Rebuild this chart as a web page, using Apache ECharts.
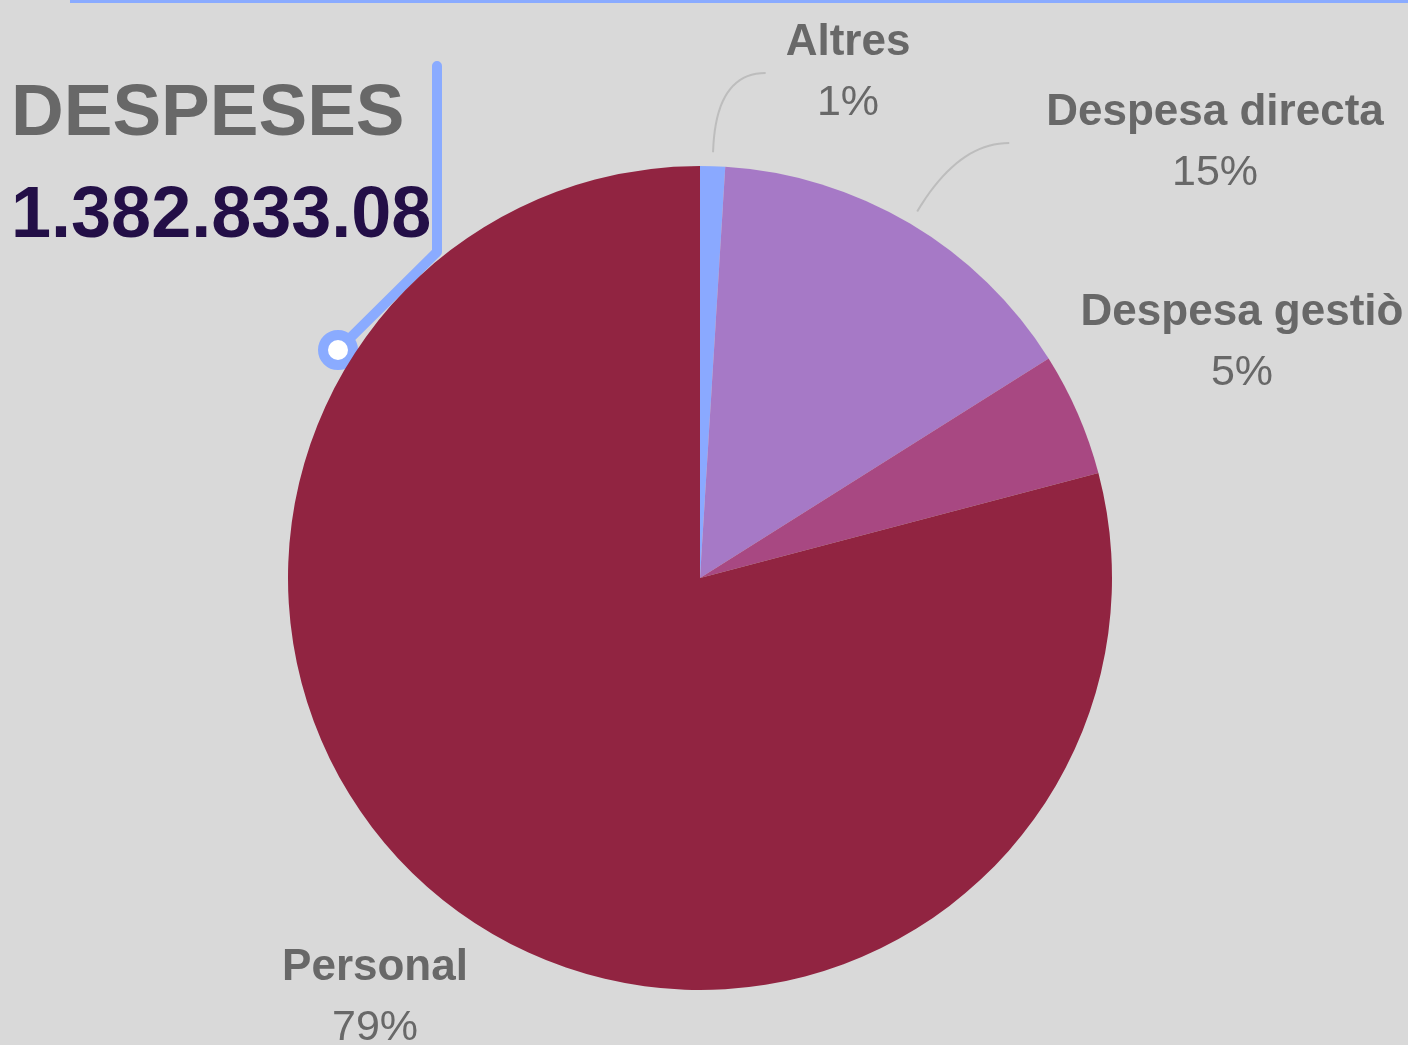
<!DOCTYPE html>
<html>
<head>
<meta charset="utf-8">
<script src="https://cdn.jsdelivr.net/npm/echarts@6/dist/echarts.min.js"></script>
<style>
    html, body { margin: 0; padding: 0; background: #d9d9d9; }
    #chart { width: 1408px; height: 1045px; }
</style>
</head>
<body>
<div id="chart"></div>
<script>
// dades
var categories = ['Altres', 'Despesa directa', 'Despesa gestiò', 'Personal'];
var amounts = [13500, 208500, 67000, 1093833.08];
var sliceColors = ['#8aa9ff', '#a679c6', '#a84882', '#912441'];
// posició de cada etiqueta (centre del bloc)
var labelPos = [[848, 73], [1215, 143], [1242, 343], [375, 998]];
var showLine = [true, true, false, false];
var lineGap = [20, 37, 0, 0]; // espai entre la guia i el text
var totalText = '1.382.833.08';
var pieCenter = [700, 578];

var myChart = echarts.init(document.getElementById('chart'));

var pieData = [];
for (var i = 0; i < categories.length; i++) {
    pieData.push({
        name: categories[i],
        value: amounts[i],
        itemStyle: { color: sliceColors[i] },
        labelLine: { show: showLine[i] }
    });
}

var option = {
    backgroundColor: '#d9d9d9',
    animation: false,
    graphic: [
        // línia superior
        { type: 'rect', shape: { x: 70, y: 0, width: 1338, height: 3 }, style: { fill: '#8aabff' } },
        // títol
        {
            type: 'text', left: 11, top: 78,
            style: { text: 'DESPESES', fill: '#686868', font: 'bold 73px "Liberation Sans", Arial, sans-serif' }
        },
        {
            type: 'text', left: 11, top: 181,
            style: { text: totalText, fill: '#230f47', font: 'bold 72px "Liberation Sans", Arial, sans-serif' }
        },
        // connector
        {
            type: 'polyline',
            shape: { points: [[437, 66], [437, 252], [338, 350]] },
            style: { stroke: '#8aabff', lineWidth: 10, fill: null, lineCap: 'round', lineJoin: 'round' }
        },
        {
            type: 'circle', shape: { cx: 338, cy: 350, r: 15 },
            style: { fill: '#ffffff', stroke: '#8aabff', lineWidth: 10 }
        }
    ],
    series: [{
        type: 'pie',
        center: pieCenter,
        radius: 412,
        startAngle: 90,
        clockwise: true,
        percentPrecision: 0,
        data: pieData,
        label: {
            show: true,
            position: 'outside',
            overflow: 'none',
            formatter: '{n|{b}}\n{p|{d}%}',
            rich: {
                n: { fontSize: 44, fontWeight: 'bold', color: '#686868', lineHeight: 60, fontFamily: 'Liberation Sans' },
                p: { fontSize: 43, color: '#686868', lineHeight: 60, fontFamily: 'Liberation Sans' }
            }
        },
        labelLine: {
            smooth: false,
            length: 20,
            length2: 4,
            lineStyle: { color: '#bdbdbd', width: 2 }
        },
        labelLayout: function (params) {
            var idx = params.dataIndex;
            var p = labelPos[idx];
            var res = { x: p[0], y: p[1], align: 'center', verticalAlign: 'middle', hideOverlap: false };
            var pts = params.labelLinePoints;
            if (showLine[idx] && pts && pts.length > 0) {
                // guia corba: surt radialment de la porció i acaba en horitzontal
                var dx = pts[0][0] - pieCenter[0], dy = pts[0][1] - pieCenter[1];
                var len = Math.sqrt(dx * dx + dy * dy) || 1;
                dx /= len; dy /= len;
                var start = [pts[0][0] + dx * 14, pts[0][1] + dy * 14];
                var end = [p[0] - params.labelRect.width / 2 - lineGap[idx], p[1]];
                var t = (end[1] - start[1]) / dy;
                var corner = [start[0] + dx * t, end[1]];
                // corba de Bézier quadràtica
                var curve = [];
                for (var k = 0; k <= 20; k++) {
                    var s = k / 20, a = (1 - s) * (1 - s), b = 2 * s * (1 - s), c = s * s;
                    curve.push([
                        a * start[0] + b * corner[0] + c * end[0],
                        a * start[1] + b * corner[1] + c * end[1]
                    ]);
                }
                res.labelLinePoints = curve;
            }
            return res;
        }
    }]
};

myChart.setOption(option);
</script>
</body>
</html>
